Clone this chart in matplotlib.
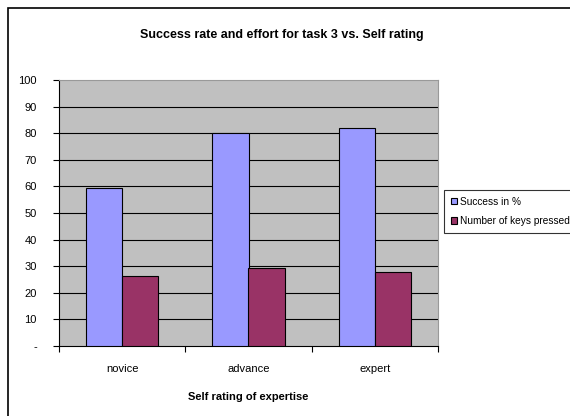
import matplotlib.pyplot as plt
import numpy as np
from matplotlib.patches import Rectangle
from matplotlib import font_manager

categories = ['novice', 'advance', 'expert']
success = [59.5, 80, 82]
keys_pressed = [26.5, 29.5, 28]
series_names = ['Success in %', 'Number of keys pressed']

names = {f.name for f in font_manager.fontManager.ttflist}
fam = 'Liberation Sans Narrow' if 'Liberation Sans Narrow' in names else 'Liberation Sans'
plt.rcParams['font.family'] = [fam, 'DejaVu Sans']

W, H = 570, 416
fig = plt.figure(figsize=(W / 100, H / 100), dpi=100)
fig.patch.set_facecolor('white')

# outer chart border (only top and left visible in the picture)
fig.patches.append(Rectangle((8 / W, -0.1), 1.2, 1 - 8 / H + 0.1, transform=fig.transFigure,
                             fill=False, edgecolor='black', linewidth=1.2))

ax = fig.add_axes([59 / W, 1 - 346 / H, (438 - 59) / W, (346 - 80) / H])
ax.set_facecolor('#C0C0C0')

x = np.arange(len(categories))
w = 0.285
ax.bar(x - w / 2, success, w, color='#9999FF', edgecolor='black', linewidth=0.8,
       label=series_names[0], zorder=3)
ax.bar(x + w / 2, keys_pressed, w, color='#993366', edgecolor='black', linewidth=0.8,
       label=series_names[1], zorder=3)

ax.set_xlim(-0.5, 2.5)
ax.set_ylim(0, 100)
yt = np.arange(0, 101, 10)
ax.set_yticks(yt)
ax.set_yticklabels(['-'] + [str(v) for v in yt[1:]], fontsize=8)
for v in yt[1:-1]:
    ax.axhline(v, color='black', linewidth=0.8, zorder=1)

ax.set_xticks([-0.5, 0.5, 1.5, 2.5])
ax.set_xticklabels([])
ax.tick_params(axis='x', direction='out', length=4, width=0.8)
ax.tick_params(axis='y', direction='out', length=4, width=0.8, pad=12)
for i, c in enumerate(categories):
    ax.text(i, -8.5, c, ha='center', va='center', fontsize=8)
ax.text(1, -19, 'Self rating of expertise', ha='center', va='center',
        fontsize=8, fontweight='bold')

ax.spines['left'].set_color('black')
ax.spines['bottom'].set_color('black')
ax.spines['top'].set_color('#999999')
ax.spines['right'].set_color('#999999')
for s in ax.spines.values():
    s.set_linewidth(0.8)

fig.text(282 / W, 1 - 35 / H, 'Success rate and effort for task 3 vs. Self rating',
         ha='center', va='center', fontsize=9, fontweight='bold')

leg = fig.legend(loc='upper left', bbox_to_anchor=(444 / W, 1 - 190 / H), fontsize=7.3,
                 frameon=True, fancybox=False, handlelength=0.6, handleheight=0.6,
                 handletextpad=0.3, borderpad=0.65, labelspacing=0.95, borderaxespad=0)
leg.get_frame().set_edgecolor('black')
leg.get_frame().set_linewidth(0.8)

fig.savefig('out.png', dpi=100)
